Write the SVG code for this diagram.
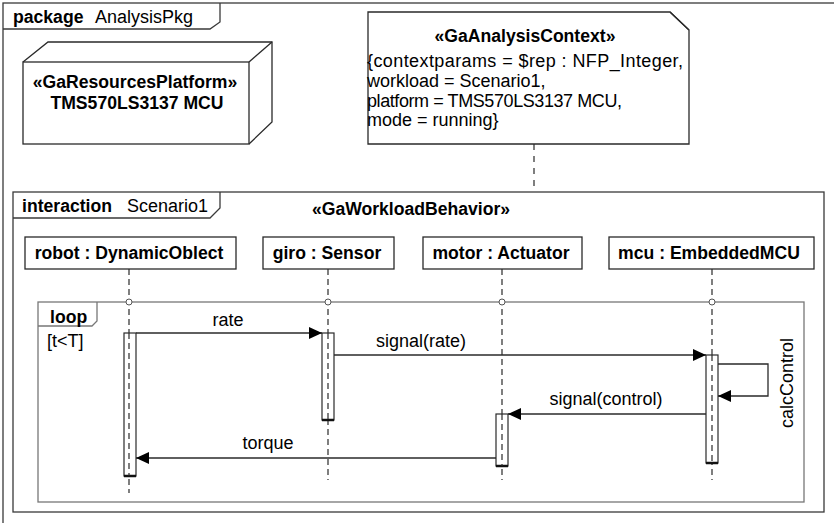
<svg xmlns="http://www.w3.org/2000/svg" width="834" height="523" viewBox="0 0 834 523">
<defs>
<style>
text{font-family:"Liberation Sans",Arial,sans-serif;font-size:18px;fill:#000}
.b{font-weight:bold;font-size:17.6px}
.m{text-anchor:middle}
.frame{fill:none;stroke:#3a3a3a;stroke-width:1.3}
.loopf{fill:none;stroke:#777;stroke-width:1.3}
.box{fill:#fff;stroke:#2a2a2a;stroke-width:1.3}
.life{stroke:#2a2a2a;stroke-width:1.2;stroke-dasharray:6,4;fill:none}
.act{fill:#fff;stroke:#2a2a2a;stroke-width:1.2}
.actb{stroke:#111;stroke-width:2.5}
.msg{fill:none;stroke:#2a2a2a;stroke-width:1.3}
.gate{fill:#fff;stroke:#555;stroke-width:1}
</style>
<marker id="arr" markerWidth="13" markerHeight="12" refX="13" refY="6" orient="auto" markerUnits="userSpaceOnUse">
<path d="M0,0 L13,6 L0,12 Z" fill="#000"/>
</marker>
</defs>
<rect width="834" height="523" fill="#fff"/>

<g id="package">
<rect x="3" y="3" width="845" height="530" class="frame"/>
<path d="M3,29 H210 L220,22 V3" class="frame"/>
<text x="13" y="23" class="b">package</text>
<text x="95" y="23">AnalysisPkg</text>
</g>

<g id="platform">
<path d="M23,62 L48,42 H272 V122 L249,144" class="box"/>
<path d="M249,62 L272,42" class="box"/>
<rect x="23" y="62" width="226" height="82" class="box"/>
<text x="135" y="87.5" class="b m">«GaResourcesPlatform»</text>
<text x="137" y="108.5" class="b m">TMS570LS3137 MCU</text>
</g>

<g id="context">
<path d="M368,12 H670 L689,30 V144 H368 Z" class="box"/>
<path d="M670,12 L689,30" class="box"/>
<text x="525" y="42" class="b m">«GaAnalysisContext»</text>
<text x="367" y="67" textLength="316">{contextparams = $rep : NFP_Integer,</text>
<text x="367" y="87">workload = Scenario1,</text>
<text x="367" y="107" textLength="255">platform = TMS570LS3137 MCU,</text>
<text x="367" y="126">mode = running}</text>
</g>

<g id="scenario1">
<rect x="13" y="192" width="811" height="320" class="frame"/>
<path d="M13,218 H210 L220,208 V192" class="frame"/>
<text x="22" y="212" class="b">interaction</text>
<text x="127" y="212">Scenario1</text>
<text x="411" y="215" class="b m">«GaWorkloadBehavior»</text>
</g>

<g id="robot">
<rect x="25" y="237" width="211" height="32" class="box"/>
<text x="129" y="259" class="b m">robot : DynamicOblect</text>
<line x1="129" y1="269" x2="129" y2="493" class="life"/>
</g>
<g id="giro">
<rect x="263" y="237" width="131" height="32" class="box"/>
<text x="327" y="259" class="b m">giro : Sensor</text>
<line x1="328" y1="269" x2="328" y2="480" class="life"/>
</g>
<g id="motor">
<rect x="423" y="237" width="159" height="32" class="box"/>
<text x="501" y="259" class="b m">motor : Actuator</text>
<line x1="502" y1="269" x2="502" y2="480" class="life"/>
</g>
<g id="mcu">
<rect x="609" y="237" width="205" height="32" class="box"/>
<text x="709" y="259" class="b m">mcu : EmbeddedMCU</text>
<line x1="712" y1="269" x2="712" y2="480" class="life"/>
</g>

<g id="loop">
<rect x="38" y="302" width="766" height="200" class="loopf"/>
<path d="M38,326 H92 L97,321 V302" class="loopf"/>
<text x="50" y="322.5" class="b">loop</text>
<text x="47" y="347">[t&lt;T]</text>
<circle cx="129" cy="302" r="3" class="gate"/>
<circle cx="328" cy="302" r="3" class="gate"/>
<circle cx="502" cy="302" r="3" class="gate"/>
<circle cx="712" cy="302" r="3" class="gate"/>
</g>

<g id="activations">
<rect x="124" y="333" width="12" height="143" class="act"/>
<line x1="124" y1="476" x2="136" y2="476" class="actb"/>
<line x1="129" y1="333" x2="129" y2="476" class="life"/>
<rect x="322" y="333" width="12" height="87" class="act"/>
<line x1="322" y1="420" x2="334" y2="420" class="actb"/>
<line x1="328" y1="333" x2="328" y2="420" class="life"/>
<rect x="496" y="414" width="12" height="52" class="act"/>
<line x1="496" y1="466" x2="508" y2="466" class="actb"/>
<line x1="502" y1="414" x2="502" y2="466" class="life"/>
<rect x="706" y="355" width="12" height="108" class="act"/>
<line x1="706" y1="463" x2="718" y2="463" class="actb"/>
<line x1="712" y1="355" x2="712" y2="463" class="life"/>
</g>

<g id="connectors">
<line x1="534" y1="144" x2="534" y2="192" class="life" style="stroke-dasharray:6,6"/>
<line x1="136" y1="333" x2="322" y2="333" class="msg" marker-end="url(#arr)"/>
<text x="228" y="326" class="m">rate</text>
<line x1="334" y1="355" x2="706" y2="355" class="msg" marker-end="url(#arr)"/>
<text x="421" y="347" class="m">signal(rate)</text>
<path d="M718,364 H768 V396 H718" class="msg" marker-end="url(#arr)"/>
<text transform="translate(793,383) rotate(-90)" class="m">calcControl</text>
<line x1="706" y1="414" x2="508" y2="414" class="msg" marker-end="url(#arr)"/>
<text x="606" y="405" class="m">signal(control)</text>
<line x1="496" y1="458" x2="136" y2="458" class="msg" marker-end="url(#arr)"/>
<text x="268" y="449" class="m">torque</text>
</g>
</svg>
